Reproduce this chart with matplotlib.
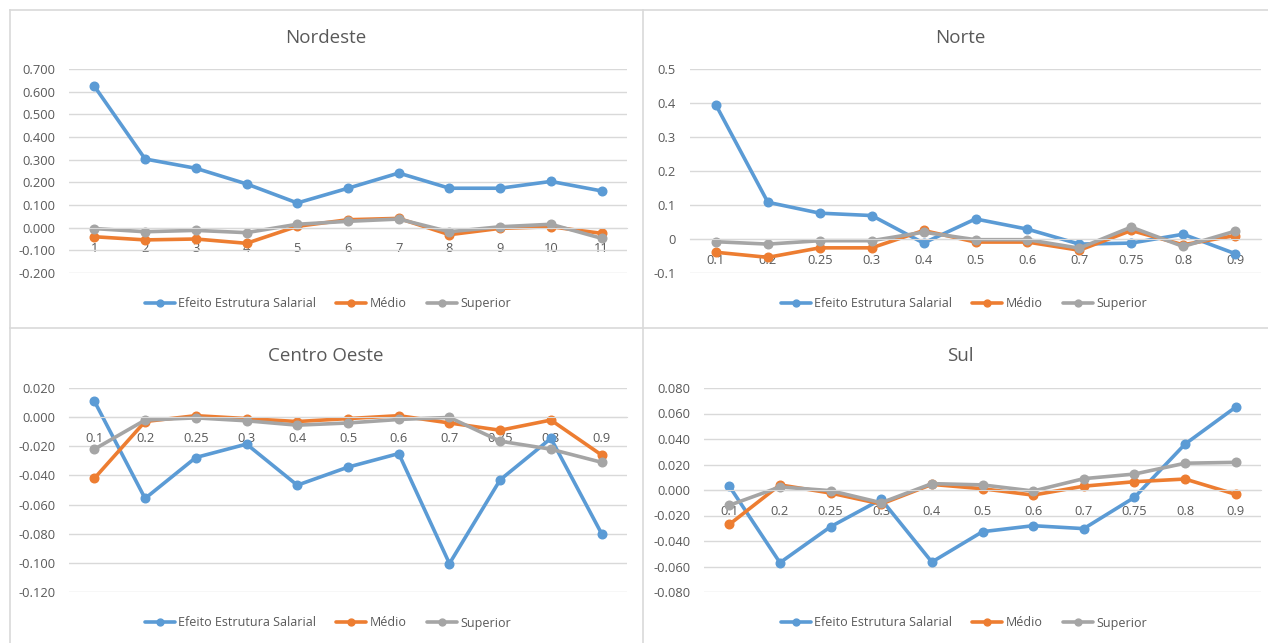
import numpy as np
import matplotlib
matplotlib.use("Agg")
import matplotlib.pyplot as plt
from matplotlib.lines import Line2D
from matplotlib.ticker import FixedLocator, FuncFormatter

plt.rcParams['font.family'] = ['Open Sans', 'DejaVu Sans']

# categorias do eixo x
cat_nordeste = ['1', '2', '3', '4', '5', '6', '7', '8', '9', '10', '11']
cat_quantis = ['0.1', '0.2', '0.25', '0.3', '0.4', '0.5', '0.6', '0.7', '0.75', '0.8', '0.9']

series_names = ['Efeito Estrutura Salarial', 'Médio', 'Superior']
colors = ['#5B9BD5', '#ED7D31', '#A5A5A5']

# Nordeste
ne_efeito = [0.624, 0.303, 0.262, 0.193, 0.109, 0.174, 0.241, 0.174, 0.174, 0.204, 0.162]
ne_medio = [-0.040, -0.054, -0.050, -0.069, 0.006, 0.035, 0.041, -0.031, -0.003, 0.004, -0.025]
ne_superior = [-0.004, -0.018, -0.012, -0.022, 0.015, 0.028, 0.038, -0.018, 0.004, 0.015, -0.047]

# Norte
no_efeito = [0.394, 0.108, 0.076, 0.069, -0.012, 0.059, 0.029, -0.015, -0.012, 0.014, -0.043]
no_medio = [-0.039, -0.054, -0.026, -0.026, 0.025, -0.009, -0.009, -0.033, 0.025, -0.017, 0.010]
no_superior = [-0.008, -0.015, -0.005, -0.005, 0.020, -0.002, -0.002, -0.027, 0.035, -0.022, 0.023]

# Centro Oeste
co_efeito = [0.011, -0.0558, -0.0277, -0.0185, -0.0467, -0.0343, -0.025, -0.1005, -0.043, -0.0146, -0.080]
co_medio = [-0.042, -0.003, 0.001, -0.001, -0.003, -0.001, 0.001, -0.004, -0.009, -0.002, -0.026]
co_superior = [-0.022, -0.002, -0.0005, -0.0025, -0.0055, -0.004, -0.0016, -0.0002, -0.0165, -0.022, -0.031]

# Sul
su_efeito = [0.003, -0.057, -0.0288, -0.0073, -0.0565, -0.0327, -0.028, -0.0303, -0.0058, 0.036, 0.065]
su_medio = [-0.027, 0.004, -0.0024, -0.011, 0.0044, 0.001, -0.004, 0.003, 0.0065, 0.0086, -0.0034]
su_superior = [-0.012, 0.0024, -0.0005, -0.010, 0.005, 0.004, -0.0008, 0.0089, 0.0125, 0.021, 0.0217]

W, H = 1268, 643
fig = plt.figure(figsize=(W / 100, H / 100), dpi=100)

grid_c = '#D9D9D9'
text_c = '#595959'


def px_axes(x0, x1, y0, y1):
    # y0 = topo, y1 = base (pixels a partir do topo)
    return fig.add_axes([x0 / W, 1 - y1 / H, (x1 - x0) / W, (y1 - y0) / H])


def painel(box, titulo, cats, dados, ylim, step, fmt, title_xy, leg_xy):
    ax = px_axes(*box)
    x = np.arange(len(cats))
    for vals, c, nome in zip(dados, colors, series_names):
        ax.plot(x, vals, color=c, lw=2.6, marker='o', ms=6.2, label=nome,
                solid_capstyle='round', solid_joinstyle='round')
    ax.set_xlim(-0.5, len(cats) - 0.5)
    ax.set_ylim(*ylim)
    yt = np.arange(ylim[0], ylim[1] + step / 2, step)
    ax.yaxis.set_major_locator(FixedLocator(yt))
    ax.yaxis.set_major_formatter(FuncFormatter(fmt))
    ax.set_xticks(x)
    ax.set_xticklabels(cats)
    ax.grid(axis='y', color=grid_c, lw=1)
    ax.set_axisbelow(True)
    for s in ['left', 'right', 'top']:
        ax.spines[s].set_visible(False)
    ax.spines['bottom'].set_position(('data', 0))
    ax.spines['bottom'].set_color(grid_c)
    ax.tick_params(axis='y', length=0, pad=10, labelsize=9.3, labelcolor=text_c)
    ax.tick_params(axis='x', length=0, pad=10.5, labelsize=9.3, labelcolor=text_c)
    ax.patch.set_alpha(0)
    fig.text(title_xy[0] / W, 1 - title_xy[1] / H, titulo, ha='center', va='center',
             fontsize=13.5, color=text_c)
    ax.legend(loc='center', bbox_to_anchor=(leg_xy[0] / W, 1 - leg_xy[1] / H),
              bbox_transform=fig.transFigure, ncol=3, frameon=False, fontsize=9,
              labelcolor=text_c, handlelength=2.4, handletextpad=0.3,
              columnspacing=1.6, markerscale=0.8)
    return ax


fmt3 = lambda v, p: '%.3f' % v
fmt_geral = lambda v, p: '0' if abs(v) < 1e-9 else ('%.1f' % v)

painel((69, 627, 69, 273), 'Nordeste', cat_nordeste,
       [ne_efeito, ne_medio, ne_superior], (-0.2, 0.7), 0.1, fmt3, (326, 38), (328, 304))
painel((690, 1261, 69, 273), 'Norte', cat_quantis,
       [no_efeito, no_medio, no_superior], (-0.1, 0.5), 0.1, fmt_geral, (960, 38), (964, 304))
painel((69, 627, 388, 592), 'Centro Oeste', cat_quantis,
       [co_efeito, co_medio, co_superior], (-0.12, 0.02), 0.02, fmt3, (326, 356), (328, 623))
painel((704, 1261, 388, 592), 'Sul', cat_quantis,
       [su_efeito, su_medio, su_superior], (-0.08, 0.08), 0.02, fmt3, (960, 356), (964, 623))

# bordas dos quadros
borda = '#D9D9D9'
for xs, ys in [((10, W), (10, 10)), ((10, W), (328, 328)),
               ((10, 10), (10, H)), ((643, 643), (10, H))]:
    fig.add_artist(Line2D([v / W for v in xs], [1 - v / H for v in ys],
                          color=borda, lw=1.2))

fig.savefig('out.png', dpi=100, facecolor='white')
